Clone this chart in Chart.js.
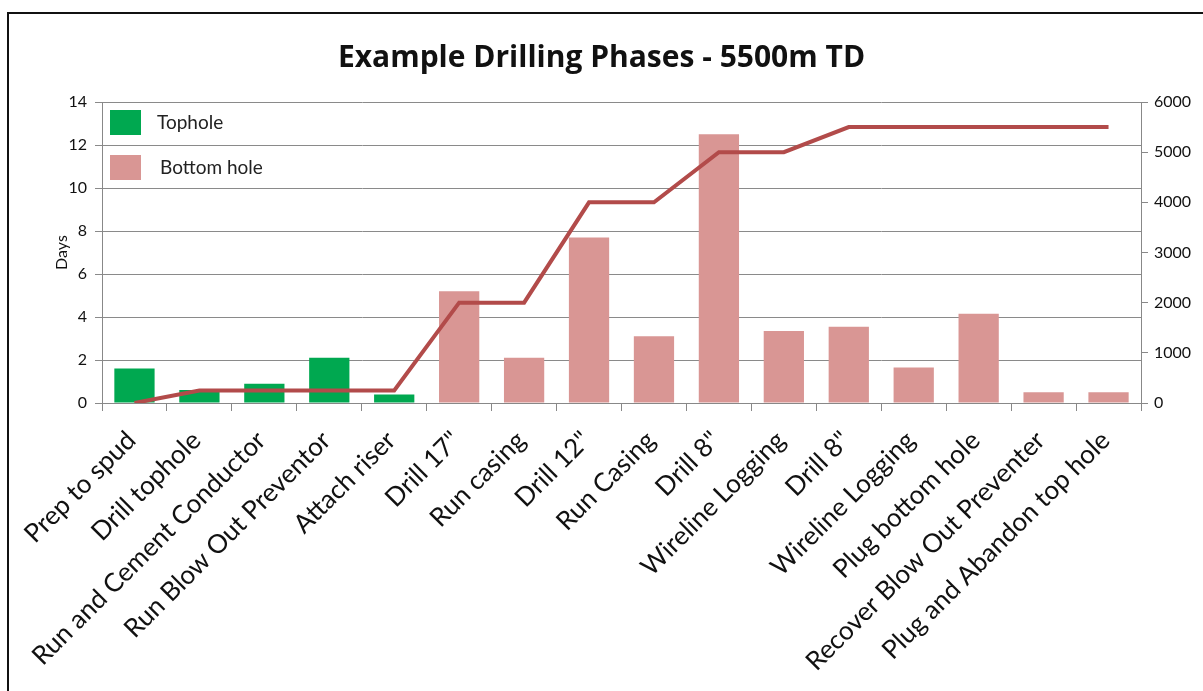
<!DOCTYPE html>
<html>
<head>
<meta charset="utf-8">
<script src="https://cdn.jsdelivr.net/npm/chart.js@4/dist/chart.umd.min.js"></script>
<style>
  html, body { margin: 0; padding: 0; background: #fff; }
  #frame { position: absolute; left: 7px; top: 12px; width: 1220px; height: 700px;
           border-left: 2px solid #111; border-top: 2px solid #111; }
  #wrap { position: absolute; left: 0; top: 0; width: 1203px; height: 691px; }
</style>
</head>
<body>
<div id="frame"></div>
<div id="wrap"><canvas id="drillChart"></canvas></div>
<script>
const phases = ['Prep to spud', 'Drill tophole', 'Run and Cement Conductor', 'Run Blow Out Preventor',
  'Attach riser', 'Drill 17"', 'Run casing', 'Drill 12"', 'Run Casing', 'Drill 8"',
  'Wireline Logging', 'Drill 8"', 'Wireline Logging', 'Plug bottom hole',
  'Recover Blow Out Preventer', 'Plug and Abandon top hole'];
const topholeDays = [1.6, 0.6, 0.9, 2.1, 0.4, null, null, null, null, null, null, null, null, null, null, null];
const bottomholeDays = [null, null, null, null, null, 5.2, 2.1, 7.7, 3.1, 12.5, 3.35, 3.55, 1.65, 4.15, 0.5, 0.5];
const depth = [0, 250, 250, 250, 250, 2000, 2000, 4000, 4000, 5000, 5000, 5500, 5500, 5500, 5500, 5500];
const dayTicks = [0, 2, 4, 6, 8, 10, 12, 14];
const depthTicks = [0, 1000, 2000, 3000, 4000, 5000, 6000];

const FONT = 'Lato, "Open Sans", sans-serif';

// legend boxes drawn inside the plot, top-left (bar series only)
const insideLegend = {
  id: 'insideLegend',
  afterDraw(chart) {
    const c = chart.ctx;
    const a = chart.chartArea;
    c.save();
    c.font = '19px ' + FONT;
    c.textBaseline = 'middle';
    [1, 2].forEach((i, n) => {
      const ds = chart.data.datasets[i];
      const y = a.top + 8 + n * 45;
      c.fillStyle = ds.backgroundColor;
      c.fillRect(a.left + 8, y, 31, 25);
      c.fillStyle = '#222';
      c.fillText(ds.label, a.left + 55 + n * 3, y + 13);
    });
    c.restore();
  }
};

new Chart(document.getElementById('drillChart'), {
  type: 'bar',
  data: {
    labels: phases,
    datasets: [
      {
        label: 'Depth (m)',
        type: 'line',
        data: depth,
        yAxisID: 'yDepth',
        borderColor: '#B24B4A',
        borderWidth: 4,
        pointRadius: 0,
        tension: 0,
        order: 0
      },
      {
        label: 'Tophole',
        data: topholeDays,
        backgroundColor: '#00A850',
        yAxisID: 'y',
        grouped: false,
        barPercentage: 0.62,
        categoryPercentage: 1,
        order: 1
      },
      {
        label: 'Bottom hole',
        data: bottomholeDays,
        backgroundColor: '#D99694',
        yAxisID: 'y',
        grouped: false,
        barPercentage: 0.62,
        categoryPercentage: 1,
        order: 1
      }
    ]
  },
  options: {
    responsive: true,
    maintainAspectRatio: false,
    animation: false,
    plugins: {
      legend: { display: false },
      tooltip: { enabled: false },
      title: {
        display: true,
        text: 'Example Drilling Phases - 5500m TD',
        color: '#111',
        font: { family: '"Open Sans", Lato, sans-serif', size: 30, weight: 'bold' },
        padding: { top: 40, bottom: 26 }
      }
    },
    scales: {
      x: {
        offset: true,
        grid: { display: true, offset: true, drawOnChartArea: false, color: '#888', tickLength: 8 },
        border: { color: '#888' },
        ticks: {
          color: '#111',
          font: { family: FONT, size: 26 },
          maxRotation: 45,
          minRotation: 45,
          autoSkip: false,
          padding: 14,
          labelOffset: -3
        },
        afterFit(scale) { scale.height = 288; }
      },
      y: {
        position: 'left',
        min: 0,
        max: 14,
        afterBuildTicks(scale) { scale.ticks = dayTicks.map(v => ({ value: v })); },
        grid: { color: '#8a8a8a', tickLength: 7 },
        border: { color: '#888' },
        ticks: { color: '#111', font: { family: FONT, size: 16 }, padding: 8 },
        title: { display: true, text: 'Days', color: '#111', font: { family: FONT, size: 16 }, padding: { top: 52, bottom: 0 } },
        afterFit(scale) { scale.width = 102; }
      },
      yDepth: {
        position: 'right',
        min: 0,
        max: 6000,
        afterBuildTicks(scale) { scale.ticks = depthTicks.map(v => ({ value: v })); },
        grid: { drawOnChartArea: false, color: '#888', tickLength: 7 },
        border: { color: '#888' },
        ticks: { color: '#111', font: { family: FONT, size: 16 }, padding: 6, callback: v => String(v) },
        afterFit(scale) { scale.width = 62; }
      }
    }
  },
  plugins: [insideLegend]
});
</script>
</body>
</html>
